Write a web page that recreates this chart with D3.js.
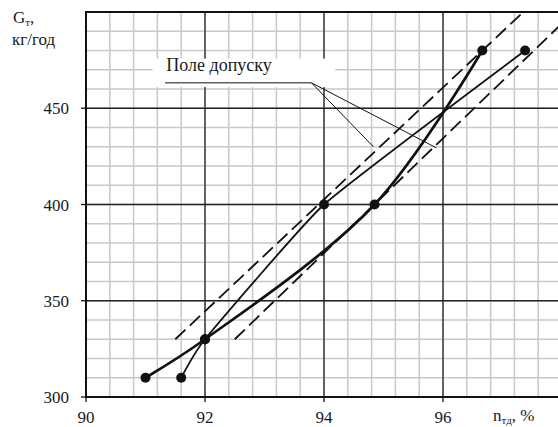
<!DOCTYPE html>
<html>
<head>
    <meta charset="UTF-8">
    <title>G_т від n</title>
    <script src="https://d3js.org/d3.v7.min.js"></script>
    <style>
        body { margin: 0; background: #fff; }
        .minor { stroke: #c9c9c9; stroke-width: 1.5; }
        .major { stroke: #222; stroke-width: 1.3; }
        .axis { stroke: #111; stroke-width: 2; }
        .bound { fill: none; stroke: #111; stroke-width: 1.8; stroke-dasharray: 14,6; }
        .leader { fill: none; stroke: #111; stroke-width: 1; }
    </style>
</head>
<body>
<div id="chart"></div>
<script>
    const width = 558;
    const height = 427;
    const serif = '"Tinos"';

    // значення осей
    const xTicks = [90, 92, 94, 96];
    const yTicks = [300, 350, 400, 450];

    // крива 1 (товста)
    const curveA = [[91.0, 310], [92.0, 330], [94.85, 400], [96.66, 480]];
    // крива 2 (тонка)
    const curveB = [[91.6, 310], [92.0, 330], [94.0, 400], [97.38, 480]];

    // межі поля допуску
    const boundUpper = [[91.5, 330], [97.35, 500]];
    const boundLower = [[92.5, 330], [98.2, 500]];

    // виноска
    const legendBox = [[91.12, 475.8], [94.19, 461.0]];
    const legendText = [91.35, 469.2];
    const leaderBase = [[91.33, 463.2], [93.79, 463.2]];
    const leaderEnds = [[94.83, 430.0], [95.89, 429.4]];

    const x = d3.scaleLinear().domain([90, 98]).range([86, 562]);
    const y = d3.scaleLinear().domain([300, 500]).range([397, 12]);

    const svg = d3.select("#chart").append("svg")
        .attr("width", width).attr("height", height);

    // сітка
    const grid = svg.append("g");
    grid.selectAll("line.vx")
        .data(d3.range(0, 21).map(i => 90 + i * 0.4))
        .enter().append("line")
        .attr("class", "minor")
        .attr("x1", d => x(d)).attr("x2", d => x(d))
        .attr("y1", y(300)).attr("y2", y(500));
    grid.selectAll("line.hy")
        .data(d3.range(0, 21).map(i => 300 + i * 10))
        .enter().append("line")
        .attr("class", "minor")
        .attr("x1", x(90)).attr("x2", x(98))
        .attr("y1", d => y(d)).attr("y2", d => y(d));

    // виноска: білий фон
    svg.append("rect")
        .attr("x", x(legendBox[0][0]))
        .attr("y", y(legendBox[0][1]))
        .attr("width", x(legendBox[1][0]) - x(legendBox[0][0]))
        .attr("height", y(legendBox[1][1]) - y(legendBox[0][1]))
        .attr("fill", "#fff");

    grid.selectAll("line.mx")
        .data([92, 94, 96, 98])
        .enter().append("line")
        .attr("class", "major")
        .attr("x1", d => x(d)).attr("x2", d => x(d))
        .attr("y1", y(300)).attr("y2", y(500));
    grid.selectAll("line.my")
        .data([350, 400, 450])
        .enter().append("line")
        .attr("class", "major")
        .attr("x1", x(90)).attr("x2", x(98))
        .attr("y1", d => y(d)).attr("y2", d => y(d));

    // осі
    svg.append("line").attr("class", "axis")
        .attr("x1", x(90)).attr("x2", x(90)).attr("y1", y(300) + 1).attr("y2", y(500) - 1);
    svg.append("line").attr("class", "axis")
        .attr("x1", x(90) - 1).attr("x2", x(98)).attr("y1", y(300)).attr("y2", y(300));
    svg.append("line").attr("class", "axis")
        .attr("x1", x(90) - 1).attr("x2", x(98)).attr("y1", y(500)).attr("y2", y(500));

    svg.append("g").selectAll("line")
        .data(yTicks).enter().append("line")
        .attr("stroke", "#111").attr("stroke-width", 1.3)
        .attr("x1", x(90) - 5).attr("x2", x(90))
        .attr("y1", d => y(d)).attr("y2", d => y(d));
    svg.append("g").selectAll("line")
        .data(xTicks).enter().append("line")
        .attr("stroke", "#111").attr("stroke-width", 1.3)
        .attr("x1", d => x(d)).attr("x2", d => x(d))
        .attr("y1", y(300)).attr("y2", y(300) + 5);

    svg.append("g").selectAll("text")
        .data(yTicks).enter().append("text")
        .attr("x", x(90) - 17).attr("y", d => y(d) + 6)
        .attr("text-anchor", "end")
        .style("font-family", serif).style("font-size", "17px")
        .attr("fill", "#1a1a1a")
        .text(d => d);
    svg.append("g").selectAll("text")
        .data(xTicks).enter().append("text")
        .attr("x", d => x(d)).attr("y", 423)
        .attr("text-anchor", "middle")
        .style("font-family", serif).style("font-size", "17px")
        .attr("fill", "#1a1a1a")
        .text(d => d);

    // підписи осей
    const gl = svg.append("text").attr("x", 13).attr("y", 23)
        .style("font-family", serif).style("font-size", "17px").attr("fill", "#1a1a1a");
    gl.append("tspan").text("G");
    gl.append("tspan").style("font-size", "11px").attr("dy", 3).text("т");
    gl.append("tspan").attr("dy", -3).text(",");
    svg.append("text").attr("x", 12).attr("y", 45)
        .style("font-family", serif).style("font-size", "17px").attr("fill", "#1a1a1a")
        .text("кг/год");

    const nl = svg.append("text").attr("x", 493).attr("y", 421)
        .style("font-family", serif).style("font-size", "17px").attr("fill", "#1a1a1a");
    nl.append("tspan").text("n");
    nl.append("tspan").style("font-size", "11px").attr("dy", 3).text("тд");
    nl.append("tspan").attr("dy", -3).text(", %");

    // поле допуску
    const line = d3.line().x(d => x(d[0])).y(d => y(d[1]));
    [boundUpper, boundLower].forEach(b => {
        svg.append("path").attr("class", "bound").attr("d", line(b));
    });

    // криві
    const smoothA = d3.line().x(d => x(d[0])).y(d => y(d[1])).curve(d3.curveCatmullRom.alpha(0.5));
    const smoothB = d3.line().x(d => x(d[0])).y(d => y(d[1])).curve(d3.curveCardinal.tension(0.6));
    svg.append("path").attr("d", smoothB(curveB))
        .attr("fill", "none").attr("stroke", "#111").attr("stroke-width", 1.8);
    svg.append("path").attr("d", smoothA(curveA))
        .attr("fill", "none").attr("stroke", "#111").attr("stroke-width", 2.7);

    svg.append("g").selectAll("circle")
        .data(curveA.concat(curveB)).enter().append("circle")
        .attr("cx", d => x(d[0])).attr("cy", d => y(d[1]))
        .attr("r", 5).attr("fill", "#111");

    // виноска
    svg.append("text")
        .attr("x", x(legendText[0])).attr("y", y(legendText[1]))
        .style("font-family", serif).style("font-size", "18px").attr("fill", "#1a1a1a")
        .text("Поле допуску");
    svg.append("path").attr("class", "leader").attr("d", line(leaderBase));
    leaderEnds.forEach(e => {
        svg.append("path").attr("class", "leader").attr("d", line([leaderBase[1], e]));
    });
</script>
</body>
</html>
